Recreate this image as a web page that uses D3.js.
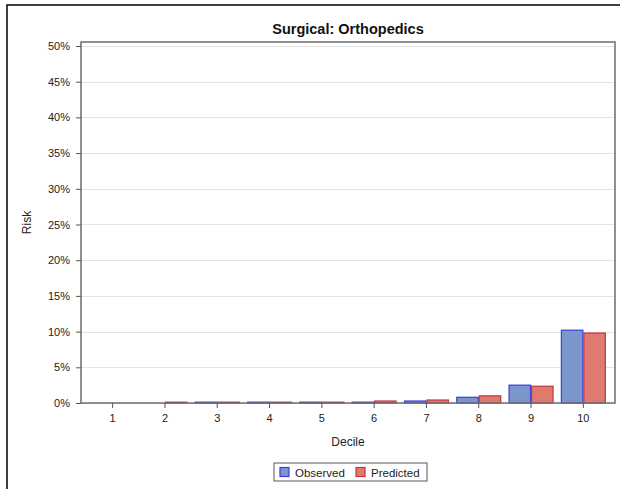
<!DOCTYPE html>
<html>
<head>
<meta charset="utf-8">
<script src="https://cdn.jsdelivr.net/npm/d3@7"></script>
<style>
  body { margin: 0; background: #fff; }
  svg { display: block; font-family: "Liberation Sans", Arial, sans-serif; }
</style>
</head>
<body>
<svg id="chart" width="620" height="489"></svg>
<script>
// data (risk as fraction)
const deciles = ["1", "2", "3", "4", "5", "6", "7", "8", "9", "10"]
const seriesNames = ["Observed", "Predicted"]
const observed = [0, 0, 0.0012, 0.0012, 0.0012, 0.0012, 0.0028, 0.008, 0.025, 0.102]
const predicted = [0, 0.0012, 0.0012, 0.0012, 0.0012, 0.0028, 0.0042, 0.010, 0.0235, 0.098]
const yTicks = [0, 0.05, 0.10, 0.15, 0.20, 0.25, 0.30, 0.35, 0.40, 0.45, 0.50]

const fills = {Observed: "#7b96cb", Predicted: "#de7b6e"}
const strokes = {Observed: "#3c3ce6", Predicted: "#c83240"}

const svg = d3.select("#chart")

// outer frame (right and bottom edges fall outside the window)
svg.append("rect")
    .attr("x", 7).attr("y", 5)
    .attr("width", 640).attr("height", 520)
    .attr("fill", "none")
    .attr("stroke", "#000")
    .attr("stroke-width", 1.5)

const plot = {left: 81, right: 615, top: 42, bottom: 403}

const x = d3.scaleBand()
    .domain(deciles)
    .range([plot.left, plot.right])
    .paddingInner(0.14)
    .paddingOuter(0.175)

const xs = d3.scaleBand()
    .domain(seriesNames)
    .range([0, x.bandwidth()])

const y = d3.scaleLinear()
    .domain([0, 0.5056])
    .range([plot.bottom, plot.top])

// grid
svg.append("g")
  .selectAll("line")
  .data(yTicks)
  .join("line")
    .attr("x1", plot.left).attr("x2", plot.right)
    .attr("y1", d => Math.round(y(d)) + 0.5)
    .attr("y2", d => Math.round(y(d)) + 0.5)
    .attr("stroke", "#e4e4e4")

// bars
const rows = deciles.map((d, i) => ({decile: d, Observed: observed[i], Predicted: predicted[i]}))

svg.append("g")
  .selectAll("g")
  .data(rows)
  .join("g")
    .attr("transform", d => `translate(${x(d.decile)},0)`)
  .selectAll("rect")
  .data(d => seriesNames.map(s => ({key: s, value: d[s]})).filter(v => v.value > 0))
  .join("rect")
    .attr("x", d => xs(d.key) + 0.5)
    .attr("y", d => y(d.value))
    .attr("width", xs.bandwidth() - 1)
    .attr("height", d => y(0) - y(d.value))
    .attr("fill", d => fills[d.key])
    .attr("stroke", d => strokes[d.key])
    .attr("stroke-width", 1.2)

// plot frame
svg.append("rect")
    .attr("x", plot.left).attr("y", plot.top)
    .attr("width", plot.right - plot.left)
    .attr("height", plot.bottom - plot.top)
    .attr("fill", "none")
    .attr("stroke", "#6e6e6e")
    .attr("stroke-width", 1.5)

// axes
const yAxis = svg.append("g")
    .attr("transform", `translate(${plot.left},0)`)
    .call(d3.axisLeft(y).tickValues(yTicks).tickFormat(d3.format(".0%")).tickSize(5).tickPadding(6))
yAxis.select(".domain").remove()

const xAxis = svg.append("g")
    .attr("transform", `translate(0,${plot.bottom})`)
    .call(d3.axisBottom(x).tickSize(5).tickPadding(6))
xAxis.select(".domain").remove()

svg.selectAll(".tick line").attr("stroke", "#555")
svg.selectAll(".tick text")
    .attr("fill", "#222")
    .attr("font-size", 11)
    .attr("font-family", "Liberation Sans, Arial, sans-serif")

// titles
svg.append("text")
    .attr("x", (plot.left + plot.right) / 2).attr("y", 34)
    .attr("text-anchor", "middle")
    .attr("font-size", 14.5).attr("font-weight", "bold")
    .attr("fill", "#111")
    .text("Surgical: Orthopedics")

svg.append("text")
    .attr("x", (plot.left + plot.right) / 2).attr("y", 446)
    .attr("text-anchor", "middle")
    .attr("font-size", 12).attr("fill", "#222")
    .text("Decile")

svg.append("text")
    .attr("transform", `translate(31,${(plot.top + plot.bottom) / 2}) rotate(-90)`)
    .attr("text-anchor", "middle")
    .attr("font-size", 12).attr("fill", "#222")
    .text("Risk")

// legend
const legend = svg.append("g").attr("transform", "translate(274,463)")
legend.append("rect")
    .attr("width", 153).attr("height", 18)
    .attr("fill", "#fff").attr("stroke", "#555")

const items = legend.selectAll("g")
  .data(seriesNames)
  .join("g")
    .attr("transform", (d, i) => `translate(${6 + i * 76},0)`)
items.append("rect")
    .attr("y", 4.5).attr("width", 9).attr("height", 9)
    .attr("fill", d => fills[d]).attr("stroke", d => strokes[d]).attr("stroke-width", 1.2)
items.append("text")
    .attr("x", 15).attr("y", 13.5)
    .attr("font-size", 11.5).attr("fill", "#222")
    .text(d => d)
</script>
</body>
</html>
